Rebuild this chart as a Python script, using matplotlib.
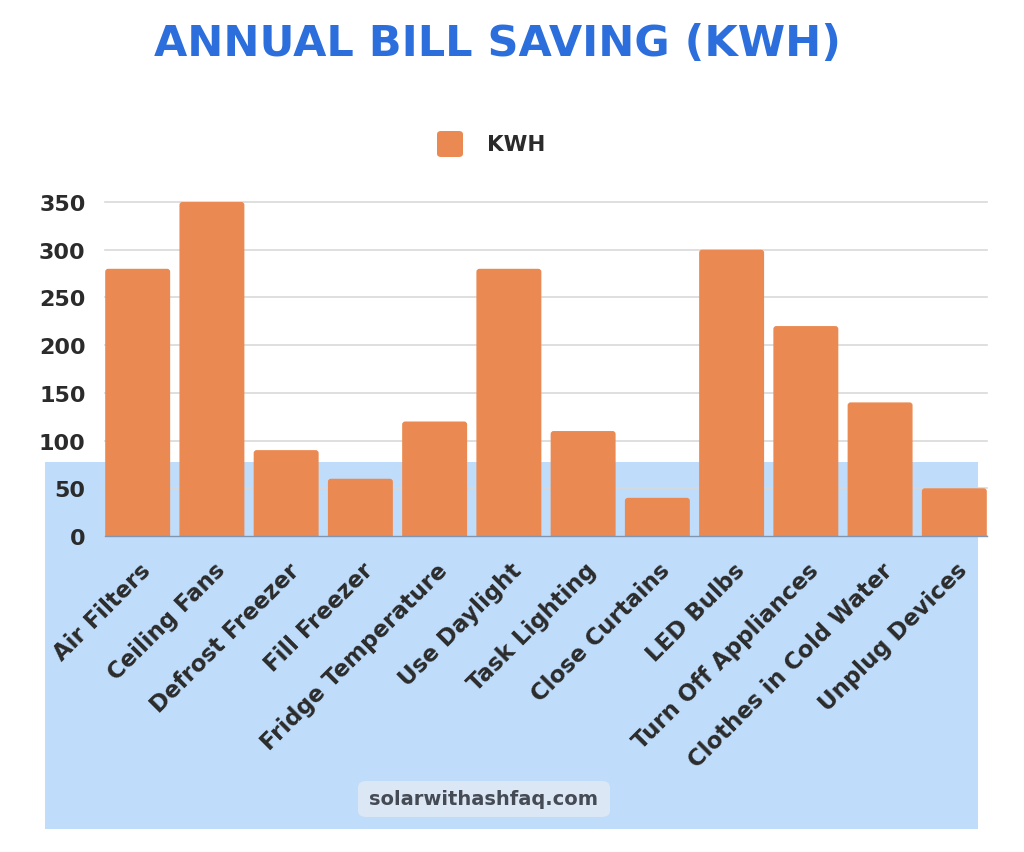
import matplotlib
matplotlib.use("Agg")
import matplotlib.pyplot as plt
from matplotlib.patches import Rectangle, FancyBboxPatch
import matplotlib.transforms as mtransforms

categories = ["Air Filters", "Ceiling Fans", "Defrost Freezer", "Fill Freezer",
              "Fridge Temperature", "Use Daylight", "Task Lighting", "Close Curtains",
              "LED Bulbs", "Turn Off Appliances", "Clothes in Cold Water", "Unplug Devices"]
kwh = [280, 350, 90, 60, 120, 280, 110, 40, 300, 220, 140, 50]
yticks = [0, 50, 100, 150, 200, 250, 300, 350]

plt.rcParams['font.family'] = ['DejaVu Sans']
BAR = "#EA8A52"
TXT = "#2b2b2b"

fig = plt.figure(figsize=(10.24, 8.53), dpi=100)
fig.patch.set_facecolor("white")

# light blue background panel
W, H = 1024, 853
fig.patches.append(Rectangle((45 / W, (H - 830) / H), (978 - 45) / W, (830 - 463) / H,
                             transform=fig.transFigure, facecolor="#BFDDFB",
                             edgecolor="none", zorder=0))

ax = fig.add_axes([105 / W, (H - 537) / H, (987 - 105) / W, (537 - 203) / H])
ax.set_facecolor("none")
ax.set_zorder(1)

x = list(range(len(categories)))
xlim = (-0.44, len(categories) - 1 + 0.44)
ax.set_xlim(*xlim)
ax.set_ylim(0, 350)
bars = ax.bar(x, kwh, width=0.875, color=BAR, zorder=3, label="KWH")

# rounded top corners: replace each rectangle with a rounded box of the same geometry
px_per_x = (987 - 105) / (xlim[1] - xlim[0])
px_per_y = (537 - 203) / 350.0
aspect = px_per_x / px_per_y
r_px = 3.0
for b in bars:
    bx, by = b.get_x(), b.get_y()
    bw, bh = b.get_width(), b.get_height()
    b.set_visible(False)
    ext = r_px / px_per_y * 1.5
    p = FancyBboxPatch((bx, by - ext), bw, bh + ext,
                       boxstyle="round,pad=0,rounding_size=%f" % (r_px / px_per_x),
                       mutation_aspect=aspect, facecolor=BAR, edgecolor="none",
                       zorder=3)
    ax.add_patch(p)

ax.set_yticks(yticks)
ax.set_yticklabels([str(v) for v in yticks], fontsize=16, fontweight="bold", color=TXT)
ax.yaxis.grid(True, color="#d9d9d9", linewidth=1.2, zorder=0)
for gl in ax.get_ygridlines():
    gl.set_clip_on(False)
ax.set_axisbelow(True)
for s in ["top", "right", "left"]:
    ax.spines[s].set_visible(False)
ax.spines["bottom"].set_color("#7f95b0")
ax.spines["bottom"].set_linewidth(1.0)
ax.spines["bottom"].set_zorder(4)
ax.tick_params(axis="y", length=0, pad=14)
ax.tick_params(axis="x", length=0, pad=16)
ax.set_xticks(x)
ax.set_xticklabels(categories, rotation=45, ha="right", rotation_mode="anchor",
                   fontsize=16.5, fontweight="bold", color=TXT)
offset = mtransforms.ScaledTranslation(1 / 72, 0, fig.dpi_scale_trans)
for lab in ax.get_xticklabels():
    lab.set_transform(lab.get_transform() + offset)

# title
fig.text(497 / W, (H - 44) / H, "ANNUAL BILL SAVING (KWH)", ha="center", va="center",
         fontsize=31, fontweight="bold", color="#2C6FDC")

# legend
fig.patches.append(FancyBboxPatch((437 / W, (H - 158) / H), 26 / W, 26 / H,
                                  boxstyle="round,pad=0,rounding_size=0.004",
                                  transform=fig.transFigure, facecolor=BAR,
                                  edgecolor="none", zorder=2))
fig.text(487 / W, (H - 145) / H, "KWH", ha="left", va="center", fontsize=15.5,
         fontweight="bold", color=TXT)

# watermark
fig.patches.append(FancyBboxPatch((358 / W, (H - 818) / H), (610 - 358) / W, 36 / H,
                                  boxstyle="round,pad=0,rounding_size=0.008",
                                  transform=fig.transFigure, facecolor="#DCE7F6",
                                  edgecolor="none", zorder=2))
fig.text(484 / W, (H - 800) / H, "solarwithashfaq.com", ha="center", va="center",
         fontsize=14, fontweight="bold", color="#454b55", zorder=3)

fig.savefig("out.png", dpi=100)
